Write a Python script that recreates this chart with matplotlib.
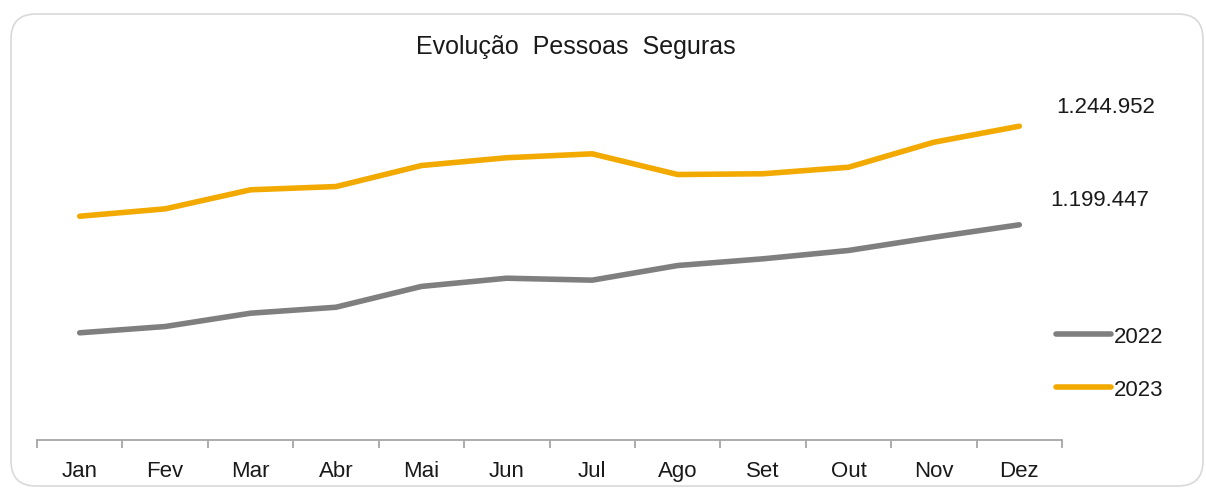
import matplotlib
matplotlib.use("Agg")
import matplotlib.pyplot as plt
from matplotlib.patches import FancyBboxPatch
from matplotlib.transforms import IdentityTransform

months = ["Jan", "Fev", "Mar", "Abr", "Mai", "Jun", "Jul", "Ago", "Set", "Out", "Nov", "Dez"]
series_2022 = [1149600, 1152500, 1158650, 1161400, 1171000, 1174800, 1173900, 1180650, 1183750, 1187600, 1193700, 1199447]
series_2023 = [1203400, 1206800, 1215600, 1217100, 1226800, 1230400, 1232200, 1222650, 1223000, 1226000, 1237550, 1244952]
labels = ["2022", "2023"]
colors = ["#7F7F7F", "#F2A900"]
title = "Evolução  Pessoas  Seguras"

FONT = ["Liberation Sans", "DejaVu Sans"]
plt.rcParams["font.family"] = FONT

W, H = 1206, 489
fig = plt.figure(figsize=(W / 100, H / 100), dpi=100)

# rounded frame
frame = FancyBboxPatch((11, 2), 1192, 472, boxstyle="round,pad=0,rounding_size=25",
                       transform=IdentityTransform(), facecolor="none",
                       edgecolor="#D9D9D9", linewidth=1.2, zorder=-10)
fig.patches.append(frame)

ax = fig.add_axes([37 / W, (H - 440.5) / H, 1025 / W, (440.5 - 91.5) / H])
ax.set_facecolor("none")
ax.set_zorder(5)
x = list(range(len(months)))
l1, = ax.plot(x, series_2022, color=colors[0], lw=4.0, solid_capstyle="round", solid_joinstyle="round")
l2, = ax.plot(x, series_2023, color=colors[1], lw=4.0, solid_capstyle="round", solid_joinstyle="round")

ax.set_xlim(-0.5, 11.5)
ax.set_ylim(1100364, 1261427)
ax.set_yticks([])
for s in ["top", "right", "left"]:
    ax.spines[s].set_visible(False)
ax.spines["bottom"].set_color("#A6A6A6")
ax.spines["bottom"].set_linewidth(1.3)

ax.set_xticks(x)
ax.set_xticklabels(months, fontsize=16, color="#1a1a1a")
ax.tick_params(axis="x", which="major", length=0, pad=15)
ax.set_xticks([i - 0.5 for i in range(len(months) + 1)], minor=True)
ax.tick_params(axis="x", which="minor", length=5.5, width=1.3, color="#A6A6A6", direction="out")

ax.annotate("1.244.952", xy=(11, series_2023[-1]), xytext=(62, 14), textcoords="offset points",
            ha="center", va="center", fontsize=16, color="#1a1a1a", annotation_clip=False)
ax.annotate("1.199.447", xy=(11, series_2022[-1]), xytext=(58, 18), textcoords="offset points",
            ha="center", va="center", fontsize=16, color="#1a1a1a", annotation_clip=False)

fig.text(576 / W, 1 - 47 / H, title, ha="center", va="center", fontsize=18, color="#1a1a1a")

leg = fig.legend([l1, l2], labels, loc="center left", bbox_to_anchor=(1047 / W, 1 - 364 / H),
                 frameon=False, fontsize=16, handlelength=2.5, handletextpad=0.1,
                 labelspacing=1.45, borderaxespad=0)
for t in leg.get_texts():
    t.set_color("#1a1a1a")

fig.savefig("out.png", dpi=100)
